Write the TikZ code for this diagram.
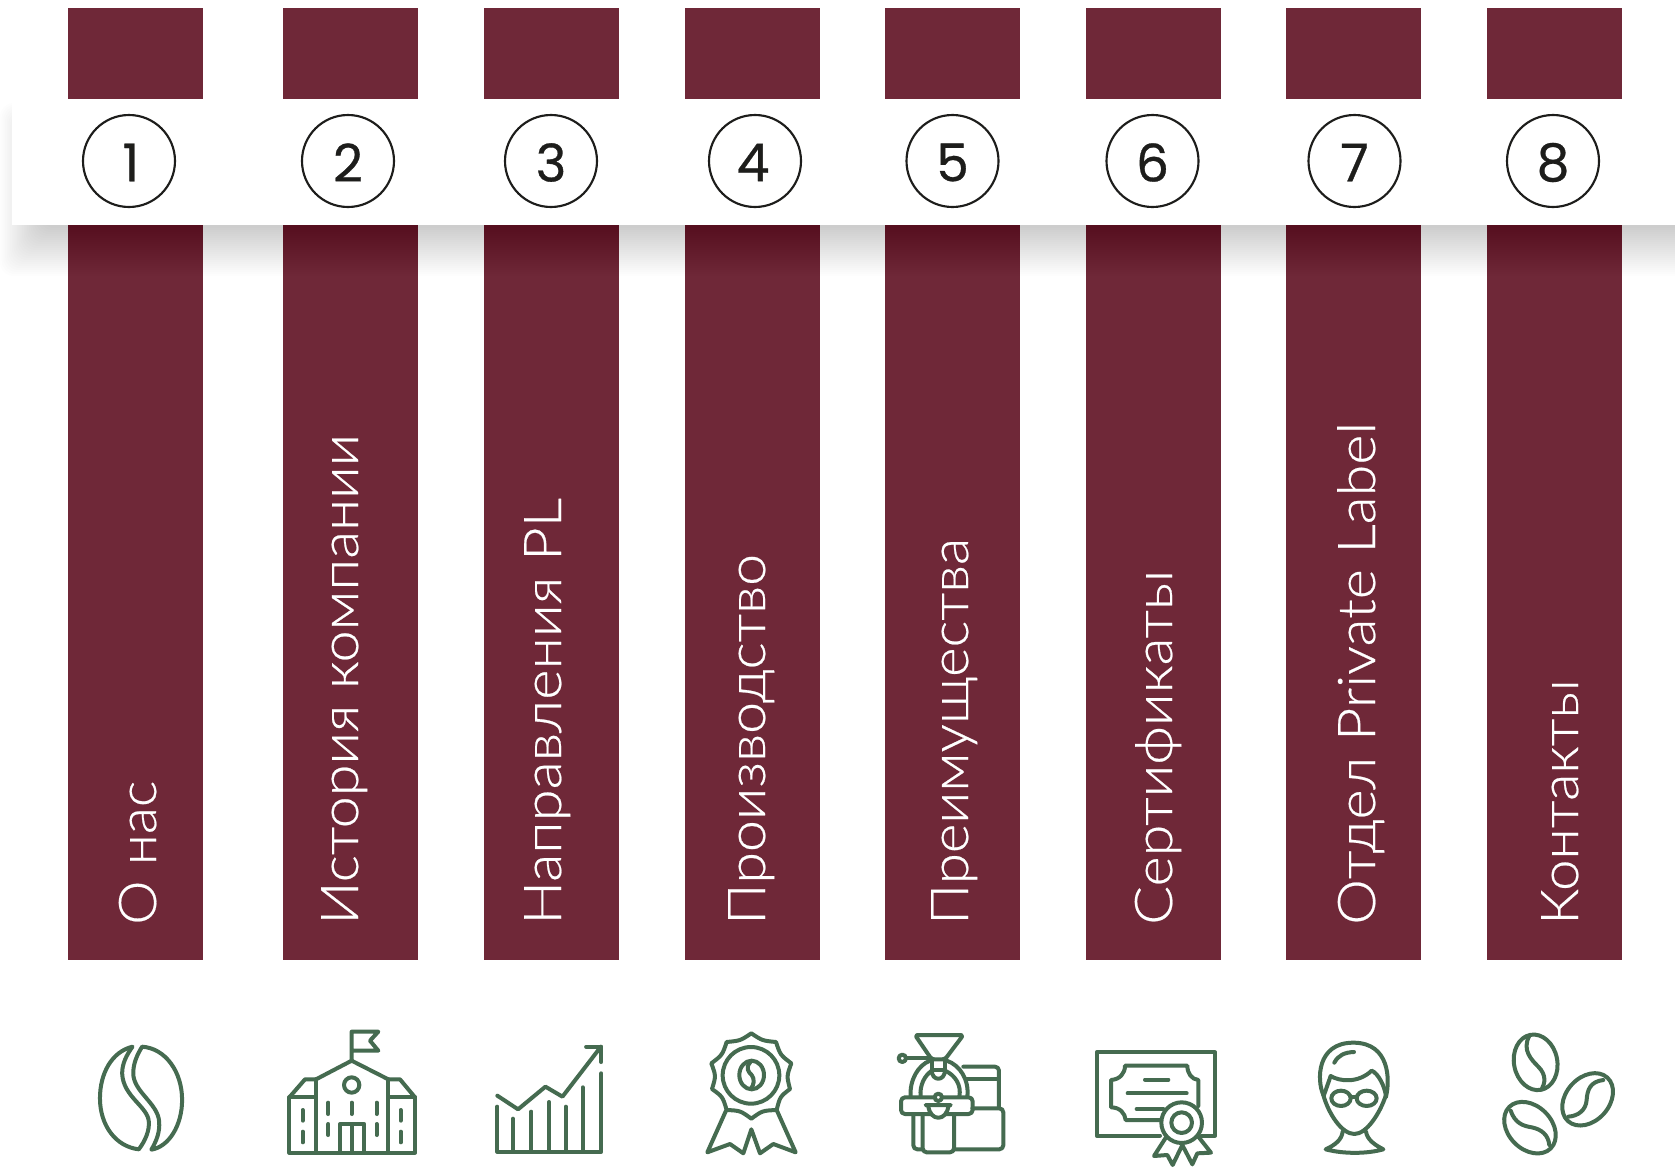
\documentclass[tikz,border=0pt]{standalone}
\usepackage{graphicx}
\usepackage{fontspec}
\setmainfont{Lato}[UprightFont=* Light,FakeBold=0.4]
\newfontfamily\digitfont{Poppins}[FakeBold=0.6]
\definecolor{barcol}{RGB}{111,40,56}
\definecolor{icocol}{RGB}{69,107,80}
\definecolor{inkcol}{RGB}{29,29,27}
\tikzset{
  barbox/.style={fill=barcol,draw=none},
  numring/.style={circle,draw=inkcol,line width=1.6pt,minimum size=69pt,inner sep=0pt,fill=white},
  numtext/.style={inner sep=0pt,text=inkcol,font=\digitfont\fontsize{39}{39}\selectfont},
  barlabel/.style={inner sep=0pt,rotate=90,anchor=base west,text=white,font=\fontsize{39}{39}\selectfont},
  ico/.style={draw=icocol,line width=3pt,line cap=round,line join=round}
}
\newcommand{\fitlab}[2]{\resizebox{#1pt}{\height}{#2}}
\begin{document}
\begin{tikzpicture}[x=0.75pt,y=-0.75pt]
\useasboundingbox (0,0) rectangle (1675,1168);
\fill[white] (0,0) rectangle (1675,1168);
% bars
\foreach \n/\xx in {1/68,2/283,3/484,4/685,5/884.5,6/1086,7/1286,8/1487}{
  \fill[barbox] (\xx,8) rectangle ++(135,952);
}
% shadow
\clip (0,0) rectangle (1675,1168);
\foreach \i in {0,...,24}{
  \fill[black,opacity=0.0075,rounded corners=10pt] ({\i*1.7},{103+\i*1.5}) rectangle (1800,{276-\i*2});
}
% band
\fill[white] (12,99) rectangle (1690,225);
% numbers
\foreach \n/\xx/\dx in {1/129/2,2/348/0,3/551/0,4/755/-2,5/952.5/0,6/1152.5/0,7/1354.5/0,8/1553/0}{
  \node[numring] (ring\n) at (\xx,161) {};
  \node[numtext] (num\n) at (\xx+\dx,162.5) {\n};
}
% labels
\node[barlabel] (lab1) at (156,925) {\fitlab{108}{О нас}};
\node[barlabel] (lab2) at (358,925) {\fitlab{368}{История компании}};
\node[barlabel] (lab3) at (561,925) {\fitlab{320}{Направления PL}};
\node[barlabel] (lab4) at (765,925) {\fitlab{278}{Производство}};
\node[barlabel] (lab5) at (968,925) {\fitlab{290}{Преимущества}};
\node[barlabel] (lab6) at (1172,925) {\fitlab{266}{Сертификаты}};
\node[barlabel] (lab7) at (1375,925) {\fitlab{377}{Отдел Private Label}};
\node[barlabel] (lab8) at (1578,925) {\fitlab{184}{Контакты}};
% icon 1
\begin{scope}[shift={(60,1000)},xscale=0.37,yscale=0.3333]
\draw[ico] (196,140) .. controls (140,155) and (108,220) .. (108,295) .. controls (108,375) and (150,440) .. (213,448) .. controls (232,420) and (242,390) .. (240,365) .. controls (238,320) and (170,290) .. (168,220) .. controls (168,190) and (180,165) .. (196,140) -- cycle;
\draw[ico] (222,140) .. controls (285,145) and (330,215) .. (330,300) .. controls (330,375) and (295,440) .. (247,449) .. controls (262,420) and (270,395) .. (268,365) .. controls (265,310) and (198,275) .. (198,220) .. controls (198,190) and (208,165) .. (222,140) -- cycle;
\end{scope}
% icon 2
\begin{scope}[shift={(270,1020)},scale=0.3333]
\draw[ico] (245,122) -- (245,35) -- (325,35) -- (300,62) -- (325,92) -- (245,92);
\draw[ico] (138,178) -- (245,122) -- (355,178);
\draw[ico] (58,232) -- (105,178) -- (138,178);
\draw[ico] (355,178) -- (390,178) -- (435,232);
\draw[ico] (58,232) -- (58,398) -- (435,398) -- (435,232) -- (355,232);
\draw[ico] (58,232) -- (138,232);
\draw[ico] (138,178) -- (138,398);
\draw[ico] (355,178) -- (355,398);
\draw[ico] (245,195) circle[radius=23];
\foreach \a/\b/\c in {98/270/302,98/335/367,175/248/282,175/312/345,245/248/282,320/248/282,320/312/345,392/270/302,392/335/367}{
  \draw[ico] (\a,\b) -- (\a,\c);
}
\draw[ico] (210,398) -- (210,312) -- (283,312) -- (283,398);
\draw[ico] (245,312) -- (245,398);
\end{scope}
% icon 3
\begin{scope}[shift={(60,1000)},xscale=0.37,yscale=0.3333]
\draw[ico] (1182,320) -- (1182,455) -- (1463,455) -- (1463,220);
\foreach \a/\b in {1224/356,1274/335,1322/306,1367/320,1413/262}{
  \draw[ico] (\a,\b) -- (\a,455);
}
\draw[ico] (1182,287) -- (1238,328) -- (1312,260) -- (1358,290) -- (1462,140);
\draw[ico] (1422,140) -- (1463,140) -- (1463,186);
\end{scope}
% icon 4
\begin{scope}[shift={(680,1020)},scale=0.3333]
\draw[ico] (214,40) .. controls (247,62) .. (288,66) .. controls (301,105) .. (334,130) .. controls (320,168) .. (330,207) .. controls (300,230) .. (290,270) .. controls (247,272) .. (214,296) .. controls (181,272) .. (140,270) .. controls (128,230) .. (96,207) .. controls (108,168) .. (94,130) .. controls (127,105) .. (140,66) .. controls (181,62) .. (214,40) -- cycle;
\draw[ico] (213,166) circle[radius=85];
\draw[ico] (215,165) ellipse[x radius=37,y radius=43];
\draw[ico] (212,125) .. controls (195,145) and (205,155) .. (215,165) .. controls (225,178) and (222,195) .. (212,207);
\draw[ico] (138,272) -- (82,397) -- (150,372) -- (190,400) -- (214,328) -- (240,400) -- (280,372) -- (347,397) -- (290,270);
\end{scope}
% icon 5
\begin{scope}[shift={(880,1020)},scale=0.3333]
\draw[ico,rounded corners=2pt] (105,45) -- (250,45) -- (195,118) -- (155,118) -- cycle;
\draw[ico] (67,115) circle[radius=11];
\draw[ico] (78,115) -- (150,115);
\draw[ico] (155,120) -- (155,150) -- (195,150) -- (195,120);
\draw[ico] (155,150) .. controls (155,185) and (195,185) .. (195,150);
\draw[ico] (92,230) .. controls (88,180) and (115,135) .. (150,122);
\draw[ico] (200,122) .. controls (240,135) and (268,180) .. (262,230);
\draw[ico] (122,230) .. controls (118,195) and (135,165) .. (156,152);
\draw[ico] (195,152) .. controls (225,165) and (245,195) .. (238,230);
\draw[ico,rounded corners=3pt] (250,140) -- (357,140) -- (357,262);
\draw[ico] (258,178) -- (357,178);
\draw[ico,rounded corners=3pt] (277,265) -- (370,265) -- (370,388) -- (222,388);
\draw[ico,rounded corners=3pt] (63,232) rectangle (278,282);
\draw[ico,fill=white] (175,232) circle[radius=11];
\draw[ico,fill=white] (137,255) -- (212,255) -- (205,258) .. controls (200,305) and (150,305) .. (145,258) -- cycle;
\draw[ico,rounded corners=3pt] (128,285) -- (128,397) -- (222,397) -- (222,285);
\draw[ico,rounded corners=3pt] (100,285) -- (100,388) -- (128,388);
\end{scope}
% icon 6
\begin{scope}[shift={(1080,1030)},scale=0.3333]
\draw[ico] (240,317) -- (50,317) -- (50,67) -- (405,67) -- (405,317) -- (365,317);
\draw[ico] (355,228) -- (355,150) .. controls (335,148) and (322,130) .. (322,107) -- (135,107) .. controls (135,130) and (120,148) .. (93,150) -- (93,232) .. controls (120,232) and (135,250) .. (137,270) -- (240,270);
\draw[ico] (195,149) -- (265,149);
\draw[ico] (143,190) -- (320,190);
\draw[ico] (170,237) -- (250,237);
\draw[ico] (305,278) circle[radius=61];
\draw[ico] (305,278) circle[radius=31];
\draw[ico] (258,322) -- (222,378) -- (262,375) -- (278,405) -- (307,345) -- (337,403) -- (352,370) -- (393,368) -- (355,320);
\end{scope}
% icons 7 and 8
\begin{scope}[shift={(1260,1000)},scale=0.3333]
\draw[ico] (190,285) .. controls (170,240) and (170,128) .. (280,128) .. controls (390,128) and (390,240) .. (378,290);
\draw[ico] (192,285) -- (212,228) .. controls (240,245) and (295,250) .. (335,212) .. controls (355,220) and (375,260) .. (378,290);
\draw[ico] (190,285) .. controls (205,340) and (245,402) .. (283,402) .. controls (320,402) and (360,340) .. (378,285);
\draw[ico] (223,188) .. controls (235,165) and (255,157) .. (282,156);
\draw[ico] (243,295) ellipse[x radius=29,y radius=23];
\draw[ico] (320,295) ellipse[x radius=30,y radius=23];
\draw[ico] (272,290) -- (290,290);
\draw[ico] (248,395) .. controls (245,420) and (225,435) .. (197,448) .. controls (250,462) and (320,462) .. (370,448) .. controls (345,435) and (322,420) .. (318,395);
\draw[ico] (808,108) .. controls (785,150) and (815,180) .. (835,200) .. controls (860,225) and (855,250) .. (845,268);
\draw[ico] (827,187) ellipse[x radius=65,y radius=84,rotate=11];
\draw[ico] (983,298) ellipse[x radius=65,y radius=88,rotate=-42];
\draw[ico] (1030,240) .. controls (990,245) and (982,270) .. (980,300) .. controls (978,330) and (955,348) .. (925,350);
\draw[ico] (810,383) ellipse[x radius=65,y radius=88,rotate=45];
\draw[ico] (752,332) .. controls (765,370) and (790,378) .. (815,382) .. controls (845,388) and (865,405) .. (868,435);
\end{scope}
\end{tikzpicture}
\end{document}
